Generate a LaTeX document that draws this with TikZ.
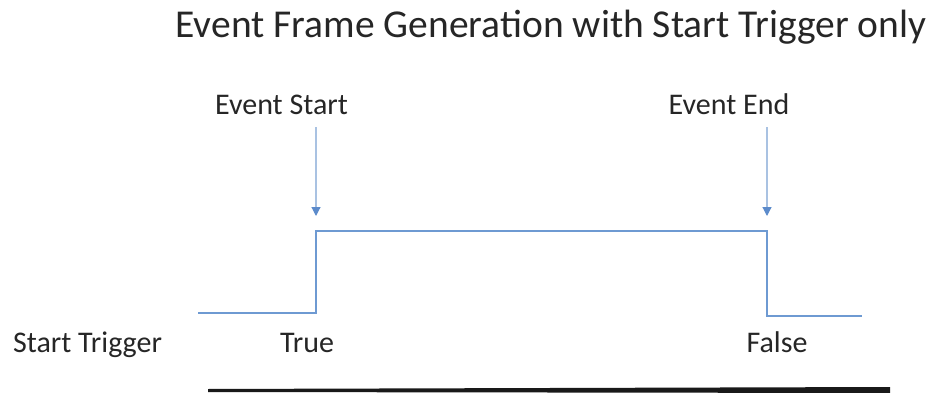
\documentclass[tikz,border=0pt]{standalone}
\usepackage{fontspec}
\setmainfont{Carlito}
\usetikzlibrary{arrows.meta}
\definecolor{wave}{HTML}{6E9AD2}
\definecolor{pointer}{HTML}{A9C2E2}
\definecolor{pointerhead}{HTML}{5C8BCB}
\tikzset{
  x=1pt, y=-1pt,
  lbl/.style={inner sep=0pt, anchor=base, font=\fontsize{30}{36}\selectfont, text=black!85},
  marker/.style={draw=pointer, line width=1.2pt,
    -{Triangle[length=9pt, width=9pt, color=pointerhead]}},
  signal/.style={draw=wave, line width=2.6pt, line join=miter},
}
\begin{document}
\begin{tikzpicture}
\useasboundingbox (0,0) rectangle (932,393);

% heading
\node[lbl, font=\fontsize{39.5}{46}\selectfont] (title) at (551,38)
  {Event Frame Generation with Start Trigger only};

% event labels and their pointers
\node[lbl] (startlbl) at (281.5,115) {Event Start};
\node[lbl] (endlbl) at (729,115) {Event End};
\coordinate (startrise) at (316,231);
\coordinate (endfall) at (767,231);
\coordinate (starttip) at (316,216);
\coordinate (endtip) at (767,216);
\draw[marker] (startlbl.south -| starttip) ++(0,12) -- (starttip);
\draw[marker] (endlbl.south -| endtip) ++(0,12) -- (endtip);

% trigger waveform
\coordinate (lowleft) at (198,313);
\coordinate (lowright) at (862,316);
\draw[signal] (lowleft) -- (startrise |- lowleft) -- (startrise)
  -- (endfall) -- (endfall |- lowright) -- (lowright);

% state labels
\node[lbl] (trig) at (87.5,352) {Start Trigger};
\node[lbl] (truelbl) at (307,352) {True};
\node[lbl] (falselbl) at (777,352) {False};

% time axis
\fill[black!90] (208,389) -- (890,387) -- (890,393) -- (208,392) -- cycle;
\end{tikzpicture}
\end{document}
